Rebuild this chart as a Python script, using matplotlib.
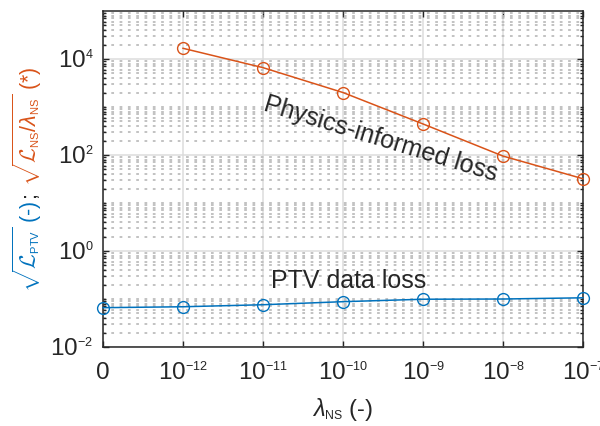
import numpy as np
import matplotlib
matplotlib.use('Agg')
import matplotlib.pyplot as plt
import matplotlib._mathtext as mathtext_internal
from matplotlib.ticker import FixedLocator, NullFormatter

plt.rcParams['font.family'] = ['Liberation Sans', 'DejaVu Sans']
plt.rcParams['mathtext.fontset'] = 'custom'
plt.rcParams['mathtext.rm'] = 'Liberation Sans'
plt.rcParams['mathtext.it'] = 'Liberation Sans:italic'
plt.rcParams['mathtext.bf'] = 'Liberation Sans:bold'
plt.rcParams['mathtext.cal'] = 'cmsy10'
# smaller super/subscripts, closer to the usual MATLAB look
mathtext_internal.SHRINK_FACTOR = 0.52

# lambda_NS sweep (0 plus decades 1e-12 .. 1e-7)
lam_labels = ['0', r'$10^{-12}$', r'$10^{-11}$', r'$10^{-10}$',
              r'$10^{-9}$', r'$10^{-8}$', r'$10^{-7}$']
ptv_loss = [0.066, 0.069, 0.076, 0.088, 0.099, 0.100, 0.106]
phys_loss = [1.67e4, 6.6e3, 2.0e3, 443, 95, 32]   # no value for lambda = 0

blue = '#0072BD'
orange = '#D95319'
dark = '#262626'

x_ptv = np.arange(len(ptv_loss))
x_phys = np.arange(1, len(phys_loss) + 1)

fig = plt.figure(figsize=(6, 4.26), dpi=100)
ax = fig.add_axes([0.1717, 0.1854, 0.8, 0.7888])

ax.plot(x_phys, phys_loss, '-o', color=orange, mfc='none', ms=8.5, lw=1.1,
        mew=1.0, clip_on=False, zorder=3)
ax.plot(x_ptv, ptv_loss, '-o', color=blue, mfc='none', ms=8.5, lw=1.1,
        mew=1.0, clip_on=False, zorder=3)

ax.set_yscale('log')
ax.set_ylim(1e-2, 1e5)
ax.set_xlim(0, 6)

# majors every other decade, minors everywhere else
ax.yaxis.set_major_locator(FixedLocator([1e-2, 1e0, 1e2, 1e4]))
minors = [k * 10.0 ** n for n in range(-2, 5) for k in range(1, 10)
          if not (k == 1 and n % 2 == 0)]
ax.yaxis.set_minor_locator(FixedLocator(minors))
ax.yaxis.set_minor_formatter(NullFormatter())
ax.set_yticklabels([r'$10^{-2}$', r'$10^{0}$', r'$10^{2}$', r'$10^{4}$'])

ax.set_xticks(x_ptv)
ax.set_xticklabels(lam_labels)

ax.grid(which='major', color='#dcdcdc', lw=1.1, ls='-')
ax.grid(which='minor', axis='y', color='#bdbdbd', lw=1.3, ls=(0, (1.5, 3.1)))
ax.set_axisbelow(True)

ax.tick_params(which='both', direction='in', top=True, right=True,
               colors=dark, labelsize=17.5, width=1.0)
ax.tick_params(which='major', length=4, pad=7)
ax.tick_params(axis='x', which='major', pad=11)
ax.tick_params(which='minor', length=2.5)
for s in ax.spines.values():
    s.set_color(dark)
    s.set_linewidth(1.1)

ax.set_xlabel(r'$\lambda_{\mathrm{NS}}$ (-)', fontsize=17, color=dark, labelpad=8)

ax.text(3.47, 215, 'Physics-informed loss', rotation=-17, fontsize=18,
        color=dark, ha='center', va='center')
ax.text(3.07, 0.169, 'PTV data loss', fontsize=18, color=dark,
        ha='center', va='baseline')

# two-coloured y label, stacked bottom to top
fig.canvas.draw()
renderer = fig.canvas.get_renderer()
parts = [(r'$\sqrt{\mathcal{L}_{\mathrm{PTV}}}$ (-)', blue),
         ('; ', dark),
         (r'$\sqrt{\mathcal{L}_{\mathrm{NS}}/\lambda_{\mathrm{NS}}}$ (*)', orange)]
W, H = fig.bbox.width, fig.bbox.height
ypos = H - 292
for s, c in parts:
    t = fig.text(37 / W, ypos / H, s, rotation=90, rotation_mode='anchor',
                 ha='left', va='baseline', fontsize=15.5, color=c)
    ypos += t.get_window_extent(renderer).height + 1

fig.savefig('out.png', dpi=100)
